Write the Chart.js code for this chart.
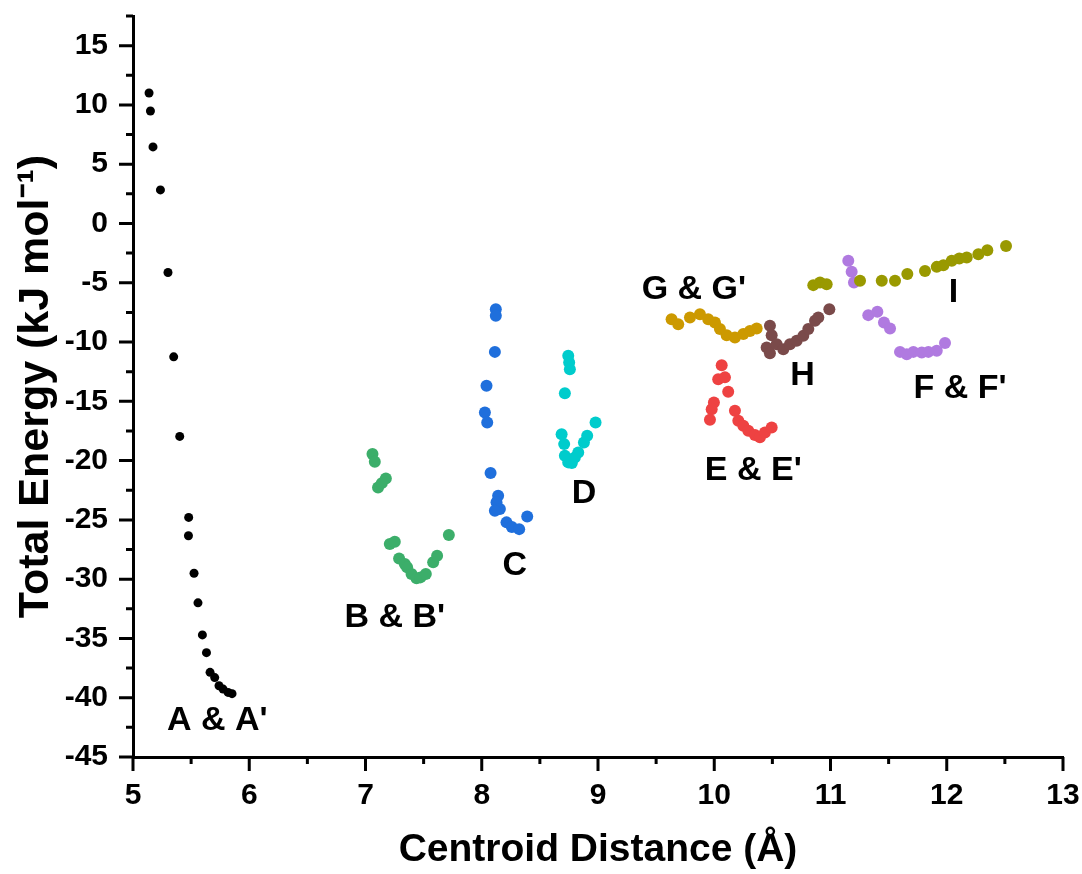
<!DOCTYPE html>
<html>
<head>
<meta charset="utf-8">
<script src="https://cdn.jsdelivr.net/npm/chart.js@4.4.1/dist/chart.umd.min.js"></script>
<style>
  html, body { margin: 0; padding: 0; background: #fff; }
  #wrap { width: 1082px; height: 874px; }
</style>
</head>
<body>
<div id="wrap"><canvas id="chart" width="1082" height="874"></canvas></div>
<script>
// values (centroid distance in Å, energy in kJ/mol)
const aX = [5.138, 5.150, 5.172, 5.236, 5.301, 5.350, 5.402, 5.479, 5.477, 5.525, 5.559, 5.597, 5.632, 5.663, 5.703, 5.740, 5.775, 5.818, 5.852];
const aY = [11.01, 9.49, 6.46, 2.83, -4.13, -11.25, -17.96, -24.79, -26.34, -29.5, -32.0, -34.7, -36.2, -37.86, -38.3, -38.99, -39.27, -39.55, -39.66];

const bX = [7.060, 7.080, 7.108, 7.140, 7.175, 7.209, 7.252, 7.289, 7.338, 7.358, 7.396, 7.439, 7.473, 7.519, 7.582, 7.616, 7.717];
const bY = [-19.45, -20.10, -22.26, -21.9, -21.5, -27.04, -26.85, -28.25, -28.73, -29.0, -29.57, -29.93, -29.85, -29.57, -28.58, -28.03, -26.28];

const cX = [8.121, 8.121, 8.113, 8.041, 8.027, 8.047, 8.076, 8.141, 8.127, 8.156, 8.113, 8.213, 8.259, 8.322, 8.391];
const cY = [-7.23, -7.79, -10.83, -13.69, -15.94, -16.78, -21.05, -22.97, -23.52, -24.09, -24.23, -25.21, -25.6, -25.78, -24.71];

const dX = [8.744, 8.752, 8.758, 8.715, 8.687, 8.709, 8.715, 8.744, 8.775, 8.801, 8.830, 8.879, 8.907, 8.979];
const dY = [-11.16, -11.72, -12.29, -14.31, -17.77, -18.61, -19.59, -20.15, -20.21, -19.73, -19.31, -18.47, -17.91, -16.78];

const eX = [10.064, 10.034, 10.092, 10.120, 9.997, 9.978, 9.963, 10.178, 10.207, 10.250, 10.293, 10.350, 10.393, 10.436, 10.494];
const eY = [-11.95, -13.13, -12.98, -14.20, -15.09, -15.66, -16.56, -15.80, -16.64, -17.07, -17.49, -17.85, -18.04, -17.62, -17.2];

const gX = [9.633, 9.690, 9.791, 9.877, 9.948, 10.006, 10.049, 10.107, 10.178, 10.250, 10.307, 10.365];
const gY = [-8.07, -8.49, -7.93, -7.65, -8.07, -8.35, -8.91, -9.42, -9.61, -9.33, -9.06, -8.85];

const hX = [10.479, 10.494, 10.451, 10.479, 10.537, 10.594, 10.651, 10.709, 10.766, 10.809, 10.867, 10.895, 10.990];
const hY = [-8.63, -9.42, -10.46, -10.94, -10.18, -10.60, -10.18, -9.90, -9.48, -8.91, -8.21, -7.93, -7.23];

const iX = [10.852, 10.910, 10.967, 11.254, 11.441, 11.555, 11.661, 11.813, 11.914, 11.971, 12.043, 12.108, 12.172, 12.272, 12.349, 12.510];
const iY = [-5.20, -4.97, -5.12, -4.84, -4.84, -4.84, -4.27, -4.00, -3.66, -3.52, -3.15, -2.95, -2.87, -2.59, -2.25, -1.89];

const fX = [11.153, 11.182, 11.202, 11.325, 11.403, 11.460, 11.512, 11.598, 11.656, 11.713, 11.785, 11.842, 11.914, 11.985];
const fY = [-3.15, -4.08, -4.97, -7.73, -7.45, -8.35, -8.85, -10.83, -11.02, -10.83, -10.88, -10.83, -10.74, -10.09];

const xTicks = [5, 6, 7, 8, 9, 10, 11, 12, 13];
const xMinor = [5.5, 6.5, 7.5, 8.5, 9.5, 10.5, 11.5, 12.5];
const yTicks = [-45, -40, -35, -30, -25, -20, -15, -10, -5, 0, 5, 10, 15];
const yMinor = [-42.5, -37.5, -32.5, -27.5, -22.5, -17.5, -12.5, -7.5, -2.5, 2.5, 7.5, 12.5, 17.5];

// group labels placed in data units
const groupNames = ["A & A'", "B & B'", "C", "D", "E & E'", "G & G'", "H", "I", "F & F'"];
const groupX = [5.725, 7.252, 8.285, 8.879, 10.336, 9.825, 10.759, 12.057, 12.115];
const groupY = [-41.94, -33.22, -28.87, -22.82, -20.86, -5.54, -12.85, -5.82, -13.97];

const pts = (xs, ys) => xs.map((x, i) => ({ x: x, y: ys[i] }));

Chart.defaults.font.family = '"Liberation Sans", Arial, sans-serif';
Chart.defaults.color = '#000';

const series = [
  { data: pts(aX, aY), color: '#000000', r: 4.5 },
  { data: pts(bX, bY), color: '#3cae6a', r: 6 },
  { data: pts(cX, cY), color: '#1f6fdc', r: 6 },
  { data: pts(dX, dY), color: '#00cccc', r: 6 },
  { data: pts(eX, eY), color: '#ee4242', r: 6 },
  { data: pts(gX, gY), color: '#cc9900', r: 6 },
  { data: pts(hX, hY), color: '#7a4a4a', r: 6 },
  { data: pts(iX, iY), color: '#999900', r: 6 },
  { data: pts(fX, fY), color: '#b07ae0', r: 6 }
];

// major / minor tick marks drawn outside the axes
const axisMarks = {
  id: 'axisMarks',
  afterDraw(chart) {
    const ctx = chart.ctx;
    const area = chart.chartArea;
    const sx = chart.scales.x, sy = chart.scales.y;
    ctx.save();
    ctx.strokeStyle = '#000';
    ctx.lineWidth = 3;
    ctx.beginPath();
    xTicks.forEach(v => { const p = sx.getPixelForValue(v); ctx.moveTo(p, area.bottom); ctx.lineTo(p, area.bottom + 14); });
    xMinor.forEach(v => { const p = sx.getPixelForValue(v); ctx.moveTo(p, area.bottom); ctx.lineTo(p, area.bottom + 7); });
    yTicks.forEach(v => { const p = sy.getPixelForValue(v); ctx.moveTo(area.left, p); ctx.lineTo(area.left - 14, p); });
    yMinor.forEach(v => { const p = sy.getPixelForValue(v); ctx.moveTo(area.left, p); ctx.lineTo(area.left - 7, p); });
    ctx.stroke();
    ctx.restore();
  }
};

const groupText = {
  id: 'groupText',
  afterDatasetsDraw(chart) {
    const ctx = chart.ctx;
    const sx = chart.scales.x, sy = chart.scales.y;
    ctx.save();
    ctx.fillStyle = '#000';
    ctx.font = 'bold 34px "Liberation Sans", Arial, sans-serif';
    ctx.textAlign = 'center';
    ctx.textBaseline = 'middle';
    groupNames.forEach((t, i) => {
      ctx.fillText(t, sx.getPixelForValue(groupX[i]), sy.getPixelForValue(groupY[i]));
    });
    ctx.restore();
  }
};

new Chart(document.getElementById('chart'), {
  type: 'scatter',
  data: {
    datasets: series.map(s => ({
      data: s.data,
      backgroundColor: s.color,
      borderWidth: 0,
      pointRadius: s.r,
      pointHoverRadius: s.r
    }))
  },
  options: {
    responsive: false,
    animation: false,
    layout: { padding: { top: 16, right: 19, left: 0, bottom: 0 } },
    plugins: {
      legend: { display: false },
      tooltip: { enabled: false }
    },
    scales: {
      x: {
        type: 'linear',
        min: 5,
        max: 13,
        grid: { display: false, drawTicks: false },
        border: { display: true, width: 3, color: '#000' },
        ticks: { font: { size: 30, weight: 'bold' }, padding: 21 },
        afterBuildTicks: s => { s.ticks = xTicks.map(v => ({ value: v })); },
        afterFit: s => { s.height = 117; s.paddingLeft = 0; s.paddingRight = 0; },
        title: {
          display: true,
          text: 'Centroid Distance (Å)',
          font: { size: 39, weight: 'bold' },
          padding: { top: 0, bottom: 0 }
        }
      },
      y: {
        type: 'linear',
        min: -45,
        max: 17.5,
        grid: { display: false, drawTicks: false },
        border: { display: true, width: 3, color: '#000' },
        ticks: { font: { size: 30, weight: 'bold' }, padding: 25 },
        afterBuildTicks: s => { s.ticks = yTicks.map(v => ({ value: v })); },
        afterFit: s => { s.width = 133; s.paddingTop = 0; s.paddingBottom = 0; },
        title: {
          display: true,
          text: 'Total Energy (kJ mol⁻¹)',
          font: { size: 43, weight: 'bold' },
          padding: { top: 10, bottom: 0 }
        }
      }
    }
  },
  plugins: [axisMarks, groupText]
});
</script>
</body>
</html>
